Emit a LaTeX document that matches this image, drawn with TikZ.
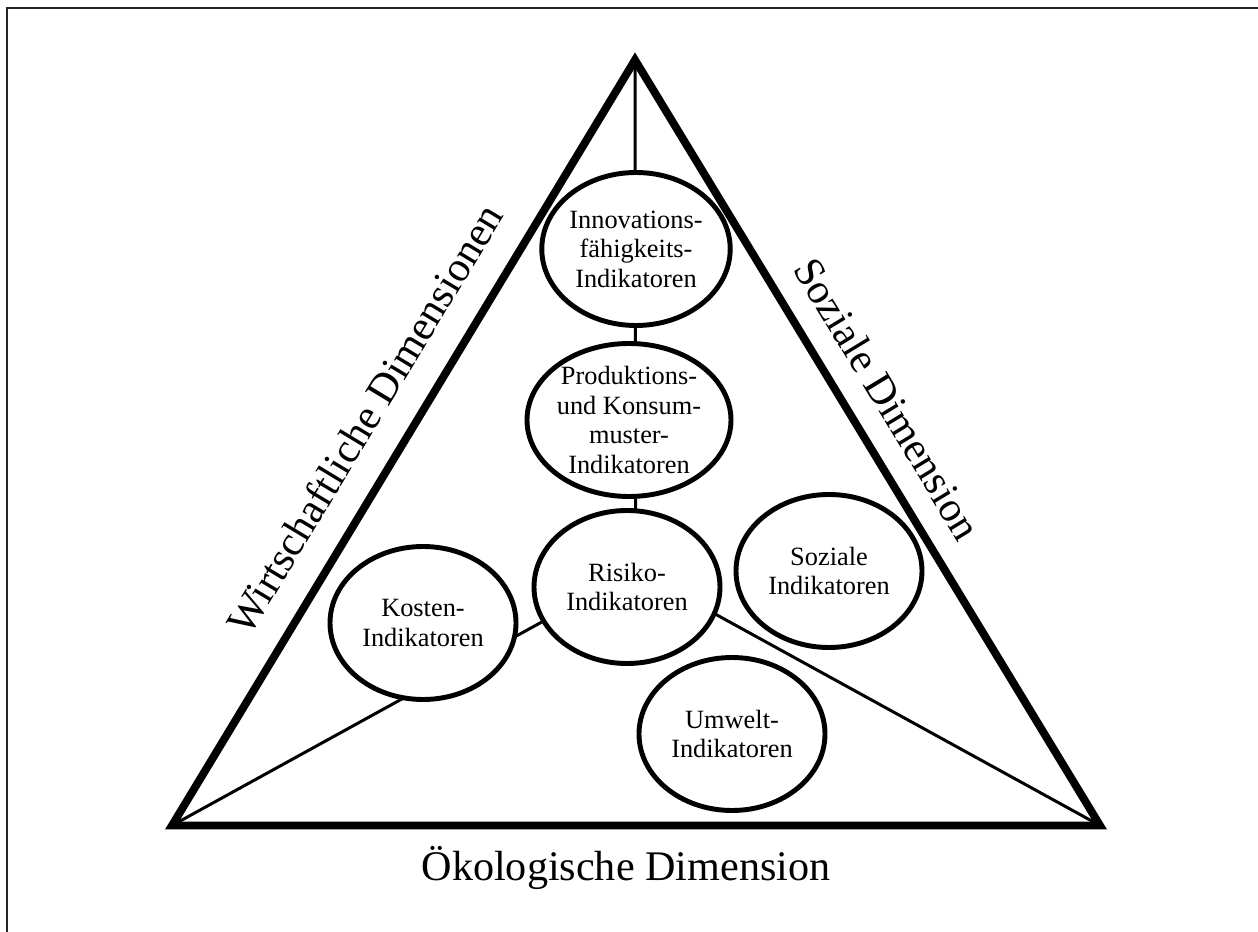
\documentclass[tikz,border=0pt]{standalone}
\usepackage{fontspec}
\setmainfont{Liberation Serif}
\usepackage{tikz}
\usetikzlibrary{calc, shapes.geometric}
\usepackage{tkz-euclide}

\begin{document}
\begin{tikzpicture}[
    indik/.style={ellipse, draw, line width=2.8pt, fill=white,
      minimum width=3.72cm, minimum height=3.06cm, inner sep=0pt,
      align=center, font=\fontsize{15}{16.8}\selectfont},
    dimlabel/.style={font=\fontsize{24}{28}\selectfont, inner sep=0pt}]
      % 0. 邊框
      \useasboundingbox (0,0) rectangle (25.16,18.64);
      \coordinate (F1) at (0.14,0);
      \coordinate (F2) at (0.14,18.48);
      \coordinate (F3) at (25.16,18.48);
      \draw[line width=0.85pt, black!85] (F1) -- (F2) -- (F3);

      % 1. 三角形的三個頂點
      \tkzDefPoint(12.70,17.44){A}
      \tkzDefPoint(3.44,2.13){B}
      \tkzDefPoint(22.00,2.13){C}

      % 2. 找到三角形 ABC 的重心 G
      \tkzDefTriangleCenter[centroid](A,B,C) \tkzGetPoint{G}

      % 3. 頂點連到重心
      \tkzDrawSegments[black, line width=1.7pt](A,G B,G C,G)

      % 4. 各指標的橢圓
      \node[indik] (inno) at (12.72,13.66) {Innovations-\\fähigkeits-\\Indikatoren};
      \node[indik] (prod) at (12.58,10.24) {Produktions-\\und Konsum-\\muster-\\Indikatoren};
      \node[indik] (risk) at (12.54,6.90) {Risiko-\\Indikatoren};
      \node[indik] (cost) at (8.46,6.18) {Kosten-\\Indikatoren};
      \node[indik] (soc) at (16.58,7.22) {Soziale\\Indikatoren};
      \node[indik] (env) at (14.64,3.96) {Umwelt-\\Indikatoren};

      % 5. 三角形
      \tkzDrawPolygon[black, line width=4.5pt, line join=miter](A,B,C)

      % 6. 三個維度
      \path (B) -- (A) node[dimlabel, midway, sloped, above=0.6cm] (wirt) {Wirtschaftliche Dimensionen};
      \path (A) -- (C) node[dimlabel, pos=0.47, sloped, above=0.5cm] (soz) {Soziale Dimension};
      \node[dimlabel, anchor=base] (oeko) at (12.52,1.04) {Ökologische Dimension};
\end{tikzpicture}
\end{document}
